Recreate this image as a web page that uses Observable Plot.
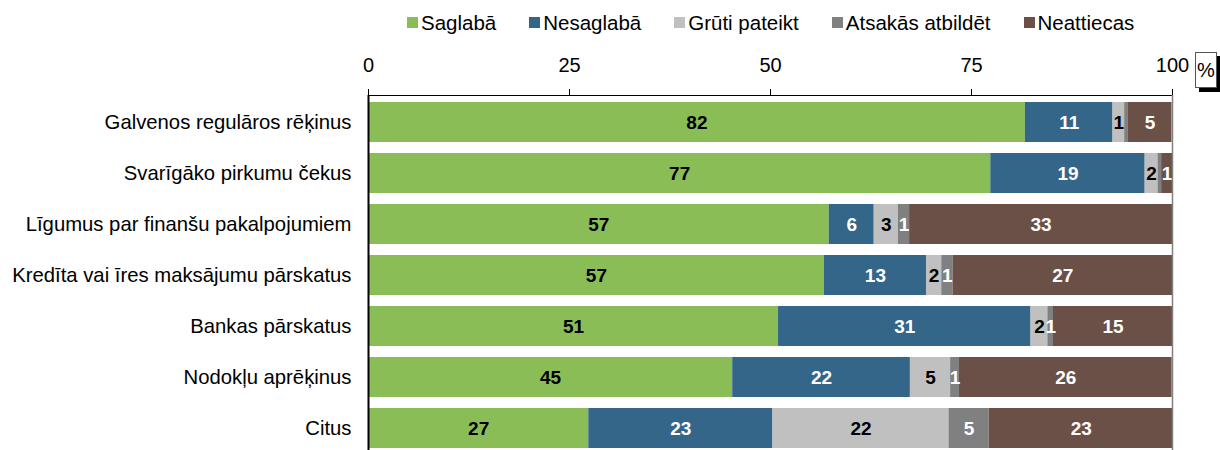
<!DOCTYPE html>
<html>
<head>
<meta charset="utf-8">
<script src="https://cdn.jsdelivr.net/npm/d3@7"></script>
<script src="https://cdn.jsdelivr.net/npm/@observablehq/plot@0.6"></script>
<style>
  html, body { margin: 0; padding: 0; background: #fff; }
  body { font-family: "Liberation Sans", Arial, sans-serif; position: relative; width: 1220px; }
  #legend { height: 45px; display: flex; align-items: center; padding-left: 407px; gap: 33px; font-size: 20.5px; color: #000; box-sizing: border-box; }
  #legend .item { display: flex; align-items: center; }
  #legend .sw { width: 11px; height: 11px; margin-right: 3px; }
  #pct { position: absolute; left: 1195px; top: 52px; width: 20px; height: 34px; border: 1px solid #555; background: #fff;
         box-shadow: 4px 4px 0 #000; font-size: 20px; line-height: 34px; text-align: center; }
  svg { display: block; }
</style>
</head>
<body>
<div id="legend"></div>
<div id="chart"></div>
<div id="pct">%</div>
<script>
const categories = [
  "Galvenos regulāros rēķinus",
  "Svarīgāko pirkumu čekus",
  "Līgumus par finanšu pakalpojumiem",
  "Kredīta vai īres maksājumu pārskatus",
  "Bankas pārskatus",
  "Nodokļu aprēķinus",
  "Citus"
];
const series = ["Saglabā", "Nesaglabā", "Grūti pateikt", "Atsakās atbildēt", "Neattiecas"];
const colors = ["#8bbd56", "#336689", "#c0c0c0", "#808080", "#6b5048"];
const saglaba    = [81.7, 77.4, 57.3, 56.7, 51.0, 45.3, 27.4];
const nesaglaba  = [10.9, 19.2, 5.6, 12.7, 31.4, 22.1, 22.9];
const gruti      = [1.45, 1.6, 3.0, 1.9, 2.1, 5.0, 21.9];
const atsakas    = [0.4, 0.45, 1.4, 1.4, 0.7, 1.1, 5.0];
const neattiecas = [5.49, 1.35, 32.7, 27.3, 14.8, 26.45, 22.9];
const xTicks = [0, 25, 50, 75, 100];
const darkLabelSeries = ["Saglabā", "Grūti pateikt"];

const seriesValues = [saglaba, nesaglaba, gruti, atsakas, neattiecas];
const data = [];
categories.forEach((c, i) => {
  series.forEach((s, j) => data.push({category: c, series: s, value: seriesValues[j][i]}));
});
const lbl = d => (Math.round(d.value) >= 1 ? String(Math.round(d.value)) : "");

// legend
const legend = document.getElementById("legend");
series.forEach((s, j) => {
  const it = document.createElement("div");
  it.className = "item";
  const sw = document.createElement("span");
  sw.className = "sw";
  sw.style.background = colors[j];
  const t = document.createElement("span");
  t.textContent = s;
  it.appendChild(sw); it.appendChild(t);
  legend.appendChild(it);
});

const font = "Liberation Sans, Arial, sans-serif";
const stackOpts = {x: "value", y: "category", z: "series", order: series};

const chart = Plot.plot({
  width: 1220,
  height: 410,
  marginTop: 50,
  marginBottom: 0,
  marginLeft: 368,
  marginRight: 48,
  style: {fontFamily: font, fontSize: "20px", color: "#000", background: "#fff"},
  x: {domain: [0, 100], label: null},
  y: {domain: categories, paddingInner: 0.223, paddingOuter: 0.117, label: null},
  color: {domain: series, range: colors},
  marks: [
    Plot.barX(data, Plot.stackX({...stackOpts, fill: "series"})),
    Plot.text(data, Plot.stackX({...stackOpts,
      text: d => darkLabelSeries.includes(d.series) ? lbl(d) : "",
      fill: "#000", fontWeight: "bold", fontSize: 19})),
    Plot.text(data, Plot.stackX({...stackOpts,
      text: d => darkLabelSeries.includes(d.series) ? "" : lbl(d),
      fill: "#fff", fontWeight: "bold", fontSize: 19})),
    Plot.axisX({anchor: "top", ticks: xTicks, tickSize: 7, tickPadding: 17, fontSize: 20, label: null, stroke: "#000"}),
    Plot.axisY({anchor: "left", tickSize: 0, tickPadding: 17, fontSize: 20.3, label: null}),
    Plot.frame({anchor: "top", stroke: "#000"}),
    Plot.ruleX([100], {stroke: "#808080", strokeWidth: 1.5}),
    Plot.ruleX([0], {stroke: "#000", strokeWidth: 2})
  ]
});
document.getElementById("chart").appendChild(chart);
</script>
</body>
</html>
